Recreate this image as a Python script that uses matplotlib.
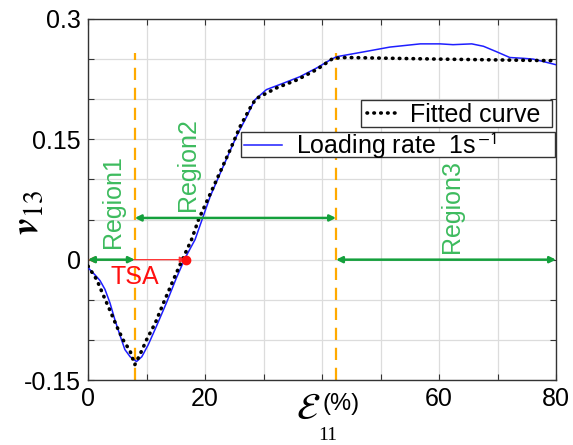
import numpy as np
import matplotlib
matplotlib.use("Agg")
import matplotlib.pyplot as plt
from matplotlib.patches import Rectangle
from matplotlib.lines import Line2D

plt.rcParams['font.family'] = ['Liberation Sans', 'DejaVu Sans']
plt.rcParams['mathtext.fontset'] = 'stix'

# Measured Poisson's ratio, loading rate 1 s^-1
strain = [0.0, 1.2, 2.05, 2.9, 3.76, 4.6, 5.5, 6.3, 7.2, 8.3, 9.2, 10.3, 11.7,
          13.4, 15.1, 16.6, 18.3, 20.9, 23.1, 25.4, 27.1, 28.5, 30.5, 33.4,
          36.2, 39.1, 41.4, 42.5, 44.8, 47.1, 51.6, 56.8, 60.2, 62.4, 65.6,
          67.6, 69.9, 72.1, 74.4, 76.1, 77.8, 80.0]
nu13 = [-0.010, -0.019, -0.026, -0.037, -0.054, -0.075, -0.095, -0.112, -0.121,
        -0.127, -0.121, -0.106, -0.083, -0.054, -0.023, 0.002, 0.025, 0.079,
        0.116, 0.154, 0.178, 0.199, 0.212, 0.220, 0.228, 0.239, 0.249, 0.253,
        0.256, 0.259, 0.265, 0.269, 0.269, 0.268, 0.269, 0.266, 0.259, 0.252,
        0.251, 0.250, 0.247, 0.243]

# Fitted curve
fit_strain = [0.0, 1.5, 2.6, 3.8, 4.9, 6.0, 7.2, 8.0, 8.9, 10.0, 11.5, 12.9,
              14.6, 16.0, 17.7, 18.9, 21.7, 24.3, 26.0, 28.0, 28.8, 32.2, 35.7,
              39.1, 41.9, 44.2, 60.0, 80.0]
fit_nu13 = [-0.008, -0.025, -0.044, -0.064, -0.083, -0.100, -0.114, -0.131,
            -0.118, -0.100, -0.079, -0.054, -0.025, -0.002, 0.025, 0.050,
            0.095, 0.137, 0.166, 0.193, 0.201, 0.214, 0.224, 0.237, 0.251,
            0.252, 0.250, 0.248]

# Region boundaries and markers
region_bounds = [8.0, 42.4]
boundary_top = 0.258
tsa_strain = 16.7
region2_arrow_y = 0.052
region_labels = ["Region1", "Region2", "Region3"]
region_label_pos = [(4.3, 0.072), (17.1, 0.118), (62.2, 0.066)]
tsa_label_pos = (8.0, -0.021)

xticks = [0, 10, 20, 30, 40, 50, 60, 70, 80]
xticklabels = ["0", "", "20", "", "", "", "60", "", "80"]
yticks = [-0.15, -0.10, -0.05, 0, 0.05, 0.10, 0.15, 0.20, 0.25, 0.30]
yticklabels = ["-0.15", "", "", "0", "", "", "0.15", "", "", "0.3"]

W, H = 573, 445
fig = plt.figure(figsize=(W / 100, H / 100), dpi=100)


def fx(px):
    return px / W


def fy(py):
    return 1 - py / H


ax = fig.add_axes([fx(88), fy(380), fx(556) - fx(88), fy(19) - fy(380)])
ax.set_xlim(0, 80)
ax.set_ylim(-0.15, 0.30)

ax.grid(True, color='#dcdcdc', linewidth=0.9)
ax.set_axisbelow(True)
ax.set_xticks(xticks)
ax.set_xticklabels(xticklabels)
ax.set_yticks(yticks)
ax.set_yticklabels(yticklabels)
ax.tick_params(direction='in', length=4, width=0.8, top=True, right=True,
               labelsize=18, color='#333333', pad=5)
for s in ax.spines.values():
    s.set_color('#333333')
    s.set_linewidth(1.0)

orange = '#FFAA00'
green_arrow = '#14A03C'
green_text = '#3DBB5E'
blue = '#1E1EFF'
dot_style = dict(color='black', lw=2.6, linestyle=(0, (0.15, 1.75)),
                 dash_capstyle='round')

# Boundary lines
for xb in region_bounds:
    ax.plot([xb, xb], [-0.15, boundary_top], color=orange, lw=1.6,
            dashes=(5.5, 3.5), zorder=2)

# Curves
ax.plot(strain, nu13, color=blue, lw=1.1, zorder=3)
ax.plot(fit_strain, fit_nu13, zorder=4, **dot_style)

# Arrows
arrow_kw = dict(arrowstyle='<|-|>', mutation_scale=9, shrinkA=0, shrinkB=0)
ax.annotate('', xy=(0, 0), xytext=(tsa_strain, 0),
            arrowprops=dict(color='#FF3030', lw=0.9, **arrow_kw), zorder=5)
ax.annotate('', xy=(0, 0), xytext=(region_bounds[0], 0),
            arrowprops=dict(color=green_arrow, lw=1.8, **arrow_kw), zorder=6)
ax.annotate('', xy=(region_bounds[0], region2_arrow_y),
            xytext=(region_bounds[1], region2_arrow_y),
            arrowprops=dict(color=green_arrow, lw=1.8, **arrow_kw), zorder=6)
ax.annotate('', xy=(region_bounds[1], 0), xytext=(80, 0),
            arrowprops=dict(color=green_arrow, lw=1.8, **arrow_kw), zorder=6)
ax.plot([tsa_strain], [0], 'o', color='#FF1010', ms=6, zorder=7, clip_on=False)

for lab, (lx, ly) in zip(region_labels, region_label_pos):
    ax.text(lx, ly, lab, rotation=90, ha='center', va='center',
            color=green_text, fontsize=18, zorder=8)
ax.text(*tsa_label_pos, "TSA", ha='center', va='center', color='#FF1010',
        fontsize=18, zorder=8)

# Legend boxes
def legend_box(x0, y0, x1, y1, handle, label, hx0, hx1, tx):
    rect = Rectangle((fx(x0), fy(y1)), fx(x1) - fx(x0), fy(y0) - fy(y1),
                     transform=fig.transFigure, facecolor='white',
                     edgecolor='#333333', lw=1.0, zorder=10)
    fig.add_artist(rect)
    ym = (y0 + y1) / 2
    line = Line2D([fx(hx0), fx(hx1)], [fy(ym), fy(ym)],
                  transform=fig.transFigure, zorder=11, **handle)
    fig.add_artist(line)
    fig.text(fx(tx), fy(ym + 1), label, ha='left', va='center',
             fontsize=18, zorder=11)


legend_box(361, 100, 552, 127, dot_style, "Fitted curve", 367, 397, 410)
legend_box(241, 132, 555, 157, dict(color=blue, lw=1.1),
           "Loading rate  1s$^{\\,\\mathsf{-1}}$", 244, 282, 296)

# Axis labels
fig.text(fx(28), fy(212), r"$\boldsymbol{v}_{\mathrm{13}}$", rotation=90,
         ha='center', va='center', fontsize=28)
fig.text(fx(308), fy(409), r"$\mathcal{E}$", ha='center', va='center',
         fontsize=27)
fig.text(fx(341), fy(404), "(%)", ha='center', va='center', fontsize=17)
fig.text(fx(328), fy(435), "11", ha='center', va='center', fontsize=14,
         family='Liberation Serif')

fig.savefig("out.png", dpi=100)
